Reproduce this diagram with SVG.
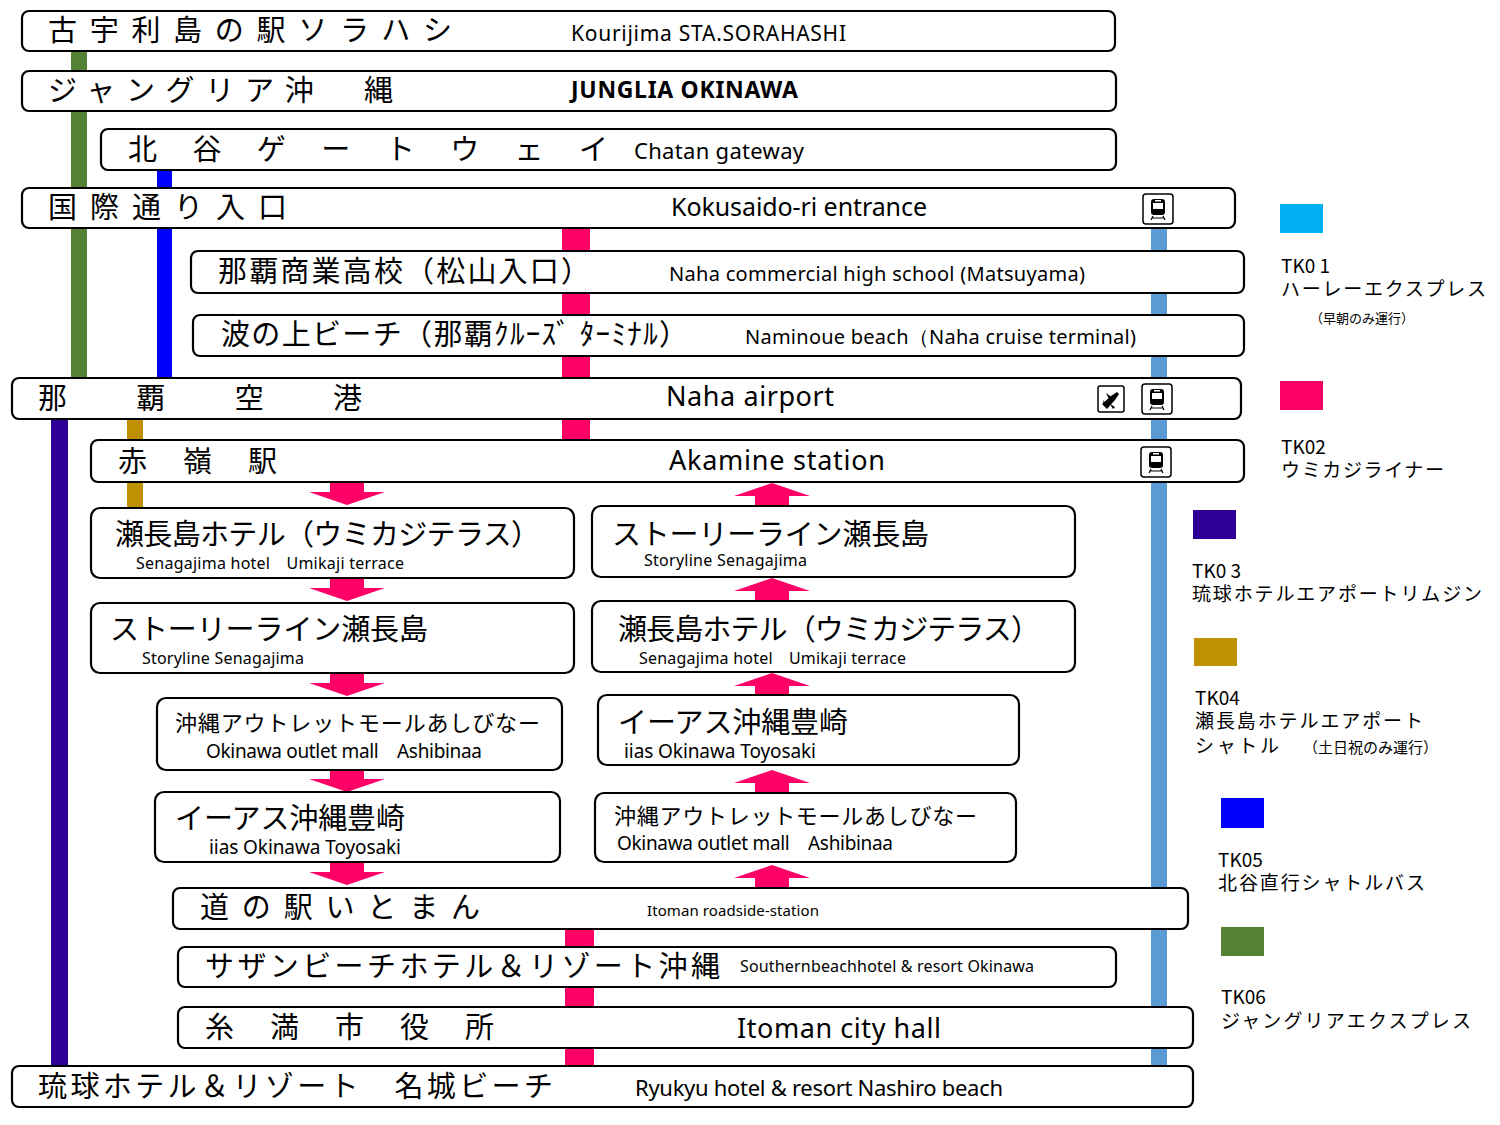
<svg xmlns="http://www.w3.org/2000/svg" width="1500" height="1125" viewBox="0 0 1500 1125">
<style>
.b{fill:#fff;stroke:#000;stroke-width:2.2}
.j{font-family:"Noto Sans CJK JP","Noto Sans",sans-serif;font-size:29px;fill:#000}
.e{font-family:"Noto Sans","Liberation Sans",sans-serif;fill:#000}
.s{font-family:"Noto Sans","Liberation Sans",sans-serif;font-size:16px;fill:#000}
.l{font-family:"Noto Sans CJK JP","Noto Sans",sans-serif;font-size:19px;fill:#000}
.ic{fill:#fff;stroke:#000;stroke-width:1.5}
</style>
<defs>
<path id="dn" d="M-17,0H17V10H38L0,23L-38,10H-17Z" fill="#FF0066"/>
<g id="tr"><rect class="ic" x="0" y="0" width="30" height="30" rx="3"/><rect x="8" y="5" width="14" height="16" rx="3" fill="#000"/><rect x="10" y="9" width="10" height="6" fill="#fff"/><rect x="12" y="6" width="6" height="1.5" fill="#fff"/><path d="M10,22L8,26M20,22L22,26M9,24H21" stroke="#000" stroke-width="1.2"/></g>
</defs>
<g id="connectors">
<rect x="71" y="51" width="16" height="328" fill="#548235"/>
<rect x="157" y="170" width="15" height="209" fill="#0000FF"/>
<rect x="562" y="228" width="28" height="212" fill="#FF0066"/>
<rect x="565" y="929" width="29" height="137" fill="#FF0066"/>
<rect x="1151" y="228" width="16" height="838" fill="#5B9BD5"/>
<rect x="51" y="419" width="17" height="647" fill="#2E0096"/>
<rect x="127" y="419" width="16" height="89" fill="#BF9000"/>
<use href="#dn" x="347" y="482"/><use href="#dn" x="347" y="578"/><use href="#dn" x="347" y="673"/><use href="#dn" x="347" y="769"/><use href="#dn" x="347" y="862"/>
<use href="#dn" transform="translate(772,506) scale(1,-1)"/><use href="#dn" transform="translate(772,601) scale(1,-1)"/><use href="#dn" transform="translate(772,696) scale(1,-1)"/><use href="#dn" transform="translate(772,793) scale(1,-1)"/><use href="#dn" transform="translate(772,888) scale(1,-1)"/>
</g>
<g id="n1"><rect class="b" x="22" y="11" width="1093" height="40" rx="7"/><text class="j" x="48" y="41" textLength="404" lengthAdjust="spacing">古宇利島の駅ソラハシ</text><text class="e" x="571" y="41" font-size="21" textLength="275">Kourijima STA.SORAHASHI</text></g>
<g id="n2"><rect class="b" x="22" y="71" width="1094" height="40" rx="7"/><text class="j" x="48" y="101" textLength="345" lengthAdjust="spacing">ジャングリア沖　縄</text><text class="e" x="571" y="98" font-size="23" font-weight="bold" textLength="227">JUNGLIA OKINAWA</text></g>
<g id="n3"><rect class="b" x="101" y="129" width="1015" height="41" rx="7"/><text class="j" x="128" y="160" textLength="480" lengthAdjust="spacing">北　谷　ゲ　ー　ト　ウ　ェ　イ</text><text class="e" x="634" y="159" font-size="22" textLength="170">Chatan gateway</text></g>
<g id="n4"><rect class="b" x="22" y="188" width="1213" height="40" rx="7"/><text class="j" x="48" y="218" textLength="239" lengthAdjust="spacing">国際通り入口</text><text class="e" x="671" y="216" font-size="25" textLength="256">Kokusaido-ri entrance</text><use href="#tr" x="1143" y="194"/></g>
<g id="n5"><rect class="b" x="191" y="251" width="1053" height="42" rx="7"/><text class="j" x="218" y="282" textLength="372" lengthAdjust="spacing">那覇商業高校（松山入口）</text><text class="e" x="669" y="281" font-size="20" textLength="416">Naha commercial high school (Matsuyama)</text></g>
<g id="n6"><rect class="b" x="193" y="315" width="1051" height="41" rx="7"/><text class="j" x="221" y="345" textLength="467" lengthAdjust="spacing">波の上ビーチ（那覇ｸﾙｰｽﾞ ﾀｰﾐﾅﾙ）</text><text class="e" x="745" y="344" font-size="20" textLength="391">Naminoue beach（Naha cruise terminal)</text></g>
<g id="n7"><rect class="b" x="12" y="378" width="1229" height="41" rx="7"/><text class="j" x="38" y="409" textLength="324" lengthAdjust="spacing">那　　　覇　　　空　　　港</text><text class="e" x="666" y="406" font-size="27" textLength="168">Naha airport</text><rect class="ic" x="1098" y="386" width="26" height="26" rx="2"/><path d="M1102,404L1111,396L1117,392L1119,394L1115,400L1107,409Z M1106,393L1113,398L1110,401Z M1110,404L1115,407L1113,409Z M1103,400L1106,404L1104,406Z" fill="#000"/><use href="#tr" x="1142" y="384"/></g>
<g id="n8"><rect class="b" x="91" y="440" width="1153" height="42" rx="7"/><text class="j" x="118" y="472" textLength="159" lengthAdjust="spacing">赤　嶺　駅</text><text class="e" x="669" y="470" font-size="27" textLength="216">Akamine station</text><use href="#tr" x="1141" y="447"/></g>
<g id="n9"><rect class="b" x="91" y="508" width="483" height="70" rx="9"/><text class="j" x="115" y="545" textLength="425" lengthAdjust="spacing">瀬長島ホテル（ウミカジテラス）</text><text class="s" x="136" y="569" textLength="268">Senagajima hotel　Umikaji terrace</text></g>
<g id="n10"><rect class="b" x="592" y="506" width="483" height="71" rx="9"/><text class="j" x="612" y="545" textLength="317" lengthAdjust="spacing">ストーリーライン瀬長島</text><text class="s" x="644" y="566" textLength="163">Storyline Senagajima</text></g>
<g id="n11"><rect class="b" x="91" y="603" width="483" height="70" rx="9"/><text class="j" x="110" y="640" textLength="318" lengthAdjust="spacing">ストーリーライン瀬長島</text><text class="s" x="142" y="664" textLength="162">Storyline Senagajima</text></g>
<g id="n12"><rect class="b" x="592" y="601" width="483" height="71" rx="9"/><text class="j" x="618" y="640" textLength="422" lengthAdjust="spacing">瀬長島ホテル（ウミカジテラス）</text><text class="s" x="639" y="664" textLength="267">Senagajima hotel　Umikaji terrace</text></g>
<g id="n13"><rect class="b" x="157" y="698" width="405" height="72" rx="9"/><text class="j" x="175" y="731" style="font-size:22px" textLength="365" lengthAdjust="spacing">沖縄アウトレットモールあしびなー</text><text class="e" x="206" y="758" font-size="19" textLength="276">Okinawa outlet mall　Ashibinaa</text></g>
<g id="n14"><rect class="b" x="598" y="695" width="421" height="70" rx="9"/><text class="j" x="618" y="733" textLength="230" lengthAdjust="spacing">イーアス沖縄豊崎</text><text class="e" x="624" y="758" font-size="19" textLength="192">iias Okinawa Toyosaki</text></g>
<g id="n15"><rect class="b" x="155" y="792" width="405" height="70" rx="9"/><text class="j" x="175" y="829" textLength="230" lengthAdjust="spacing">イーアス沖縄豊崎</text><text class="e" x="209" y="854" font-size="19" textLength="192">iias Okinawa Toyosaki</text></g>
<g id="n16"><rect class="b" x="595" y="793" width="421" height="69" rx="9"/><text class="j" x="614" y="824" style="font-size:22px" textLength="363" lengthAdjust="spacing">沖縄アウトレットモールあしびなー</text><text class="e" x="617" y="850" font-size="19" textLength="276">Okinawa outlet mall　Ashibinaa</text></g>
<g id="n17"><rect class="b" x="173" y="888" width="1015" height="41" rx="7"/><text class="j" x="200" y="918" textLength="280" lengthAdjust="spacing">道の駅いとまん</text><text class="e" x="647" y="916" font-size="15" textLength="172">Itoman roadside-station</text></g>
<g id="n18"><rect class="b" x="178" y="947" width="938" height="40" rx="7"/><text class="j" x="205" y="977" textLength="515" lengthAdjust="spacing">サザンビーチホテル＆リゾート沖縄</text><text class="s" x="740" y="972" textLength="294">Southernbeachhotel &amp; resort Okinawa</text></g>
<g id="n19"><rect class="b" x="178" y="1007" width="1015" height="41" rx="7"/><text class="j" x="205" y="1038" textLength="289" lengthAdjust="spacing">糸　満　市　役　所</text><text class="e" x="737" y="1038" font-size="27" textLength="204">Itoman city hall</text></g>
<g id="n20"><rect class="b" x="12" y="1066" width="1181" height="41" rx="7"/><text class="j" x="38" y="1097" textLength="515" lengthAdjust="spacing">琉球ホテル＆リゾート　名城ビーチ</text><text class="e" x="635" y="1096" font-size="22" textLength="368">Ryukyu hotel &amp; resort Nashiro beach</text></g>
<g id="legend">
<rect x="1280" y="204" width="43" height="29" fill="#00B0F0"/><text class="l" x="1281" y="273">TK0 1</text><text class="l" x="1281" y="296" textLength="205" lengthAdjust="spacing">ハーレーエクスプレス</text><text class="l" x="1310" y="323" style="font-size:13px">（早朝のみ運行）</text>
<rect x="1280" y="381" width="43" height="29" fill="#FF0066"/><text class="l" x="1281" y="454">TK02</text><text class="l" x="1281" y="477" textLength="163" lengthAdjust="spacing">ウミカジライナー</text>
<rect x="1193" y="510" width="43" height="29" fill="#2E0096"/><text class="l" x="1192" y="578">TK0 3</text><text class="l" x="1192" y="601" textLength="290" lengthAdjust="spacing">琉球ホテルエアポートリムジン</text>
<rect x="1194" y="638" width="43" height="28" fill="#BF9000"/><text class="l" x="1195" y="705">TK04</text><text class="l" x="1195" y="728" textLength="228" lengthAdjust="spacing">瀬長島ホテルエアポート</text><text class="l" x="1195" y="753" textLength="84" lengthAdjust="spacing">シャトル</text><text class="l" x="1303" y="753" style="font-size:15px">（土日祝のみ運行）</text>
<rect x="1221" y="798" width="43" height="30" fill="#0000FF"/><text class="l" x="1218" y="867">TK05</text><text class="l" x="1218" y="890" textLength="207" lengthAdjust="spacing">北谷直行シャトルバス</text>
<rect x="1221" y="927" width="43" height="29" fill="#548235"/><text class="l" x="1221" y="1004">TK06</text><text class="l" x="1221" y="1028" textLength="250" lengthAdjust="spacing">ジャングリアエクスプレス</text>
</g>
</svg>
